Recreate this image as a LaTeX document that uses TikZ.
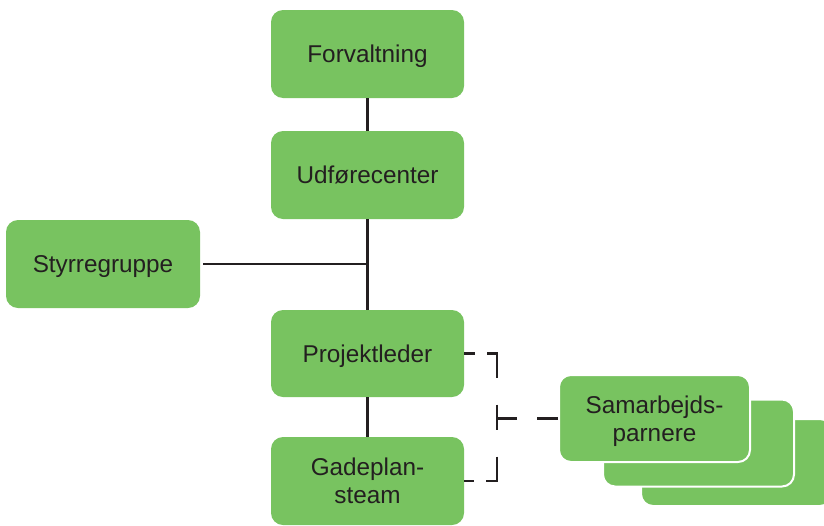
\documentclass[tikz,border=0pt]{standalone}
\usepackage{fontspec}
\setmainfont{Liberation Sans}
\definecolor{boxgreen}{HTML}{78C360}
\definecolor{ink}{HTML}{231F20}
\tikzset{
  box/.style={fill=boxgreen, rounded corners=12pt, minimum width=193pt, minimum height=88pt,
    inner sep=0pt, text=ink, font=\fontsize{24.3}{28}\selectfont, align=center},
  oneline/.style={text height=17.4pt, text depth=0pt},
  stackbox/.style={box, draw=white, line width=2pt, minimum height=87pt, minimum width=191pt},
  link/.style={draw=ink, line width=2.5pt},
  dashlink/.style={link, miter limit=10,
    dash pattern=on 11pt off 12pt on 34pt off 27pt on 25pt off 27pt on 36pt off 12pt on 11pt off 60pt},
  ticklink/.style={link, dash pattern=on 21pt off 20pt on 20pt off 60pt}
}
\begin{document}
\begin{tikzpicture}[x=1pt,y=-1pt]
\useasboundingbox (0,0) rectangle (824,525);
\node[box, oneline] (forv) at (367.5,54) {Forvaltning};
\node[box, oneline] (udf) at (367.5,175) {Udførecenter};
\node[box, oneline, minimum width=194pt] (styr) at (103,264) {Styrregruppe};
\node[box, oneline, minimum height=87pt] (proj) at (367.5,353.5) {Projektleder};
\node[box] (gade) at (367.5,481) {Gadeplan-\\steam};
\node[stackbox] (samc) at (736.5,462.5) {};
\node[stackbox] (samb) at (698.5,443) {};
\node[stackbox, text depth=0pt] (sama) at (654.5,418.5) {Samarbejds-\\parnere};
\draw[link] (forv) -- (udf);
\draw[link] (udf) -- (proj);
\draw[link] (proj) -- (gade);
\draw[link, shorten <=3pt] (styr.east) -- (styr.east -| udf.south);
\draw[dashlink] (proj.east) -- ++(33,0) |- (gade.east);
\draw[ticklink] (sama.west) -- (sama.west -| 497,0);
\end{tikzpicture}
\end{document}
